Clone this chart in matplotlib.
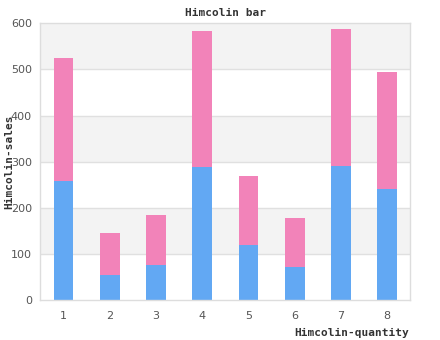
import matplotlib
matplotlib.use("Agg")
import matplotlib.pyplot as plt
import numpy as np

categories = ["1", "2", "3", "4", "5", "6", "7", "8"]
series_blue = [258, 54, 76, 288, 119, 72, 291, 241]
series_pink_total = [525, 145, 184, 583, 269, 178, 587, 494]
series_pink = [t - b for t, b in zip(series_pink_total, series_blue)]
yticks = [0, 100, 200, 300, 400, 500, 600]

fig = plt.figure(figsize=(4.4, 3.4), dpi=100)
ax = fig.add_axes([40.3/440, 1-300.3/340, 370/440, 277/340])

x = np.arange(len(categories))
# alternating bands
for i in range(len(yticks)-1):
    if i % 2 == 1:
        ax.axhspan(yticks[i], yticks[i+1], color="#f3f3f3", zorder=0, lw=0)
for y in yticks[1:-1]:
    ax.axhline(y, color="#e0e0e0", lw=1, zorder=1)

ax.bar(x, series_blue, width=0.425, color="#62a8f3", zorder=2)
ax.bar(x, series_pink, bottom=series_blue, width=0.425, color="#f283b9", zorder=2)

ax.set_xlim(-0.5, len(categories)-0.5)
ax.set_ylim(0, 600)
ax.set_xticks(x)
ax.set_xticklabels(categories)
ax.set_yticks(yticks)
ax.tick_params(length=0, labelsize=8, colors="#555555", pad=6)
ax.tick_params(axis="x", pad=8)
for s in ax.spines.values():
    s.set_color("#dddddd")
    s.set_linewidth(1)

mono = dict(family="DejaVu Sans Mono", weight="bold", size=8, color="#333333")
fig.text(0.5*(40.3+410.3)/440, 1-13/340, "Himcolin bar", ha="center", va="center", **mono)
fig.text(409/440, 1-333/340, "Himcolin-quantity", ha="right", va="center", **mono)
fig.text(9/440, 1-162/340, "Himcolin-sales", ha="center", va="center", rotation=90, **mono)

fig.savefig("out.png", dpi=100, facecolor="white")
